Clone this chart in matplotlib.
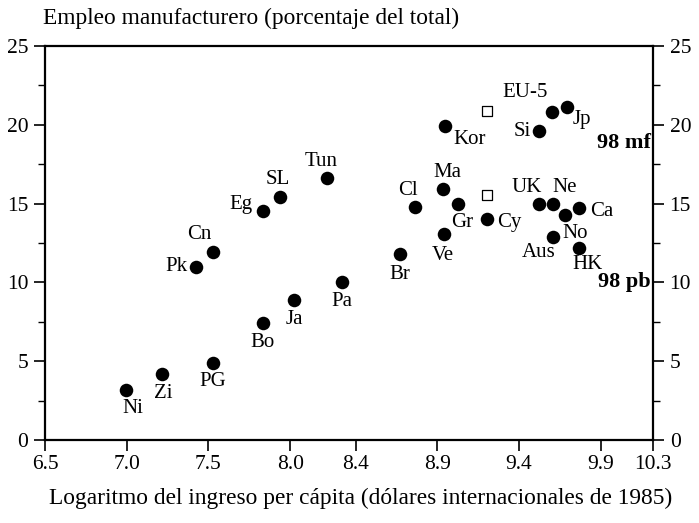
import matplotlib
matplotlib.use("Agg")
import matplotlib.pyplot as plt
from matplotlib.ticker import MultipleLocator

plt.rcParams['font.family'] = ['Liberation Serif', 'DejaVu Serif']

# Data: log income per capita (x) vs manufacturing employment share (y)
countries = ["Ni", "Zi", "PG", "Pk", "Cn", "Bo", "Ja", "Pa", "Br", "Eg", "SL", "Tun",
             "Cl", "Ma", "Gr", "Ve", "Kor", "Cy", "Si", "Jp2", "Jp", "UK", "Ne",
             "No", "Ca", "Aus", "HK"]
log_income = [6.995, 7.216, 7.528, 7.424, 7.528, 7.833, 8.023, 8.317, 8.671, 7.833, 7.937, 8.225,
              8.763, 8.934, 9.026, 8.940, 8.947, 9.203, 9.521, 9.601, 9.693, 9.521, 9.607,
              9.680, 9.766, 9.607, 9.766]
manuf_share = [3.2, 4.2, 4.9, 11.0, 11.9, 7.4, 8.9, 10.0, 11.8, 14.5, 15.4, 16.6,
               14.8, 15.9, 15.0, 13.1, 19.9, 14.0, 19.6, 20.8, 21.1, 15.0, 15.0,
               14.3, 14.7, 12.9, 12.2]
labels = ["Ni", "Zi", "PG", "Pk", "Cn", "Bo", "Ja", "Pa", "Br", "Eg", "SL", "Tun",
          "Cl", "Ma", "Gr", "Ve", "Kor", "Cy", "Si", "", "Jp", "UK", "Ne",
          "No", "Ca", "Aus", "HK"]

eu5_x = [9.203, 9.203]
eu5_y = [20.9, 15.55]
eu5_label = "EU-5"

x_tick_pos = [6.5, 7.0, 7.5, 8.0, 8.4, 8.9, 9.4, 9.9, 10.22]
x_ticklabels = ["6.5", "7.0", "7.5", "8.0", "8.4", "8.9", "9.4", "9.9", "10.3"]
y_ticks = [0, 5, 10, 15, 20, 25]

# label placement (offset in pixels, horizontal alignment)
offsets = {
    "Ni": (7, -19, "center"), "Zi": (1, -20, "center"), "PG": (0, -19, "center"),
    "Pk": (-9, 0, "right"), "Cn": (-14, 18, "center"), "Bo": (0, -19, "center"),
    "Ja": (0, -20, "center"), "Pa": (0, -19, "center"), "Br": (0, -20, "center"),
    "Eg": (-10, 7, "right"), "SL": (-2, 18, "center"), "Tun": (-6, 17, "center"),
    "Cl": (-7, 16, "center"), "Ma": (5, 17, "center"), "Gr": (4, -19, "center"),
    "Ve": (-1, -22, "center"), "Kor": (8, -13, "left"), "Cy": (10, -3, "left"),
    "Si": (-8, 0, "right"), "Jp": (6, -12, "left"), "UK": (-12, 16, "center"),
    "Ne": (12, 16, "center"), "No": (10, -19, "center"), "Ca": (11, -3, "left"),
    "Aus": (-14, -16, "center"), "HK": (9, -17, "center"),
}

fig = plt.figure(figsize=(6.99, 5.23), dpi=100)
ax = fig.add_axes([45 / 699, 1 - 440 / 523, (653 - 45) / 699, (440 - 46) / 523])

ax.scatter(log_income, manuf_share, s=95, color="black", zorder=3, linewidths=0)
ax.scatter(eu5_x, eu5_y, s=42, marker="s", facecolor="white", edgecolor="black",
           linewidths=0.9, zorder=3)

fs = 15
for xv, yv, lab in zip(log_income, manuf_share, labels):
    if not lab:
        continue
    dx, dy, ha = offsets[lab]
    ax.annotate(lab, (xv, yv), xytext=(dx, dy), textcoords="offset pixels",
                ha=ha, va="center", fontsize=fs)
ax.annotate(eu5_label, (eu5_x[0], eu5_y[0]), xytext=(38, 18), textcoords="offset pixels",
            ha="center", va="center", fontsize=fs)

ax.text(10.205, 18.85, "98 mf", ha="right", va="center", fontsize=16, fontweight="bold")
ax.text(10.205, 10.0, "98 pb", ha="right", va="center", fontsize=16, fontweight="bold")

ax.set_xlim(6.5, 10.22)
ax.set_ylim(0, 25)
ax.set_xticks(x_tick_pos)
ax.set_xticklabels(x_ticklabels)
ax.set_yticks(y_ticks)
ax.yaxis.set_minor_locator(MultipleLocator(2.5))
ax.tick_params(axis="both", which="major", direction="out", length=8, width=1.2,
               labelsize=15.5, pad=4)
ax.tick_params(axis="y", which="minor", direction="out", length=5, width=1.0)
ax.tick_params(axis="y", which="both", left=True, right=True, labelleft=True, labelright=True)
ax.tick_params(axis="x", which="major", pad=3)
for sp in ax.spines.values():
    sp.set_linewidth(1.6)

fig.text(43 / 699, 1 - 18 / 523, "Empleo manufacturero (porcentaje del total)",
         ha="left", va="center", fontsize=16.8)
fig.text(361 / 699, 1 - 498 / 523,
         "Logaritmo del ingreso per cápita (dólares internacionales de 1985)",
         ha="center", va="center", fontsize=16.8)

fig.savefig("out.png", dpi=100)
